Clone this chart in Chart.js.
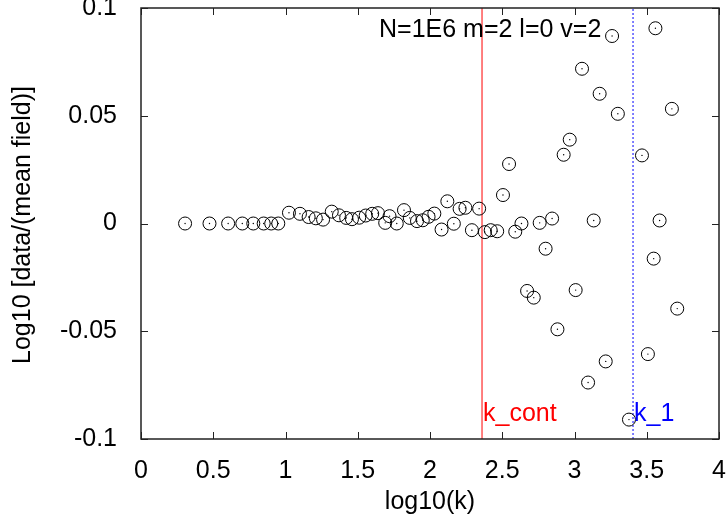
<!DOCTYPE html>
<html>
<head>
  <meta charset="utf-8">
  <title>Log10 data / mean field</title>
  <script src="https://cdn.jsdelivr.net/npm/chart.js"></script>
  <style>
    html, body { margin: 0; padding: 0; background: #fff; }
    #wrap { width: 728px; height: 523px; }
  </style>
</head>
<body>
  <div id="wrap"><canvas id="chart"></canvas></div>
  <script>
    // log10(k) of each bin and log10 of data / mean field
    const logK = [
      0.305, 0.474, 0.603, 0.701, 0.777, 0.849, 0.901, 0.95,
      1.024, 1.10, 1.16, 1.21, 1.26, 1.32, 1.37, 1.42, 1.46, 1.51,
      1.555, 1.60, 1.64, 1.69, 1.72, 1.77, 1.82, 1.86, 1.91, 1.95,
      1.99, 2.03, 2.08, 2.12, 2.165, 2.205, 2.245, 2.29, 2.34, 2.38,
      2.42, 2.465, 2.505, 2.547, 2.59, 2.633, 2.672, 2.718, 2.759, 2.80,
      2.845, 2.882, 2.925, 2.967, 3.008, 3.052, 3.094, 3.133, 3.174, 3.216,
      3.26, 3.30, 3.377, 3.467, 3.508, 3.548, 3.56, 3.589, 3.674, 3.711
    ];
    const ratio = [
      0, 0, 0, 0, 0, 0, 0, 0,
      0.005, 0.0045, 0.003, 0.0024, 0.0018, 0.0055, 0.0038, 0.0026, 0.002, 0.0027,
      0.0037, 0.0045, 0.0048, 0.0003, 0.0034, 0, 0.0062, 0.0026, 0.0011, 0.0015,
      0.0031, 0.0046, -0.0028, 0.0103, -0.0001, 0.0068, 0.0073, -0.0031, 0.0069, -0.004,
      -0.0031, -0.0036, 0.0132, 0.0276, -0.0038, 0, -0.0313, -0.0344, 0.0003, -0.0117,
      0.0023, -0.0491, 0.0319, 0.0389, -0.0309, 0.0718, -0.0738, 0.0014, 0.0602, -0.064,
      0.087, 0.0509, -0.091, 0.0316, -0.0606, -0.0163, 0.0906, 0.0014, 0.0532, -0.0395
    ];
    const kCont = 2.36;
    const kOne = 3.405;
    const yRange = [-0.1, 0.1];
    const xRange = [0, 4];
    const runLabel = "N=1E6 m=2 l=0 v=2";

    const points = logK.map((x, i) => ({ x: x, y: ratio[i] }));
    const vline = x => yRange.map(y => ({ x: x, y: y }));
    const FONT = "Liberation Sans, Arial, sans-serif";
    const fmt = v => String(+(+v).toFixed(2));

    const frame = {
      id: "frame",
      afterDraw(chart) {
        const { ctx, chartArea: a, scales: { x, y } } = chart;
        ctx.save();
        ctx.strokeStyle = "#222";
        ctx.lineWidth = 1;
        ctx.beginPath();
        x.ticks.forEach(t => {
          const px = Math.round(x.getPixelForValue(t.value)) + 0.5;
          ctx.moveTo(px, a.bottom); ctx.lineTo(px, a.bottom - 7);
          ctx.moveTo(px, a.top); ctx.lineTo(px, a.top + 7);
        });
        y.ticks.forEach(t => {
          const py = Math.round(y.getPixelForValue(t.value)) + 0.5;
          ctx.moveTo(a.left, py); ctx.lineTo(a.left + 7, py);
          ctx.moveTo(a.right, py); ctx.lineTo(a.right - 7, py);
        });
        ctx.stroke();
        ctx.lineWidth = 1.5;
        ctx.strokeRect(a.left, a.top, a.right - a.left, a.bottom - a.top);

        ctx.font = "25px " + FONT;
        ctx.textBaseline = "alphabetic";
        ctx.fillStyle = "#000";
        ctx.fillText(runLabel, 379, 37);
        ctx.fillStyle = "#ff0000";
        ctx.fillText("k_cont", x.getPixelForValue(kCont) + 1, 421);
        ctx.fillStyle = "#0000ff";
        ctx.fillText("k_1", x.getPixelForValue(kOne) + 1, 421);

        ctx.fillStyle = "#000";
        ctx.textAlign = "center";
        ctx.fillText("log10(k)", 430, 509);
        ctx.textBaseline = "middle";
        ctx.translate(23, 225);
        ctx.rotate(-Math.PI / 2);
        ctx.fillText("Log10 [data/(mean field)]", 0, 0);
        ctx.restore();
      }
    };

    new Chart(document.getElementById("chart"), {
      type: "scatter",
      data: {
        datasets: [
          {
            data: points,
            pointRadius: 6.5,
            pointHoverRadius: 6.5,
            borderColor: "#000",
            borderWidth: 1,
            backgroundColor: "rgba(0,0,0,0)"
          },
          {
            data: points,
            pointRadius: 0.7,
            borderWidth: 0,
            backgroundColor: "#000"
          },
          {
            data: vline(kCont),
            showLine: true,
            pointRadius: 0,
            borderColor: "#ff0000",
            borderWidth: 1
          },
          {
            data: vline(kOne),
            showLine: true,
            pointRadius: 0,
            borderColor: "#0000ff",
            borderWidth: 1,
            borderDash: [2, 2]
          }
        ]
      },
      options: {
        responsive: true,
        maintainAspectRatio: false,
        animation: false,
        events: [],
        layout: { padding: { top: 8, right: 9, left: 0, bottom: 0 } },
        plugins: { legend: { display: false }, tooltip: { enabled: false } },
        scales: {
          x: {
            type: "linear",
            min: xRange[0],
            max: xRange[1],
            afterFit: s => { s.height = 84; s.paddingLeft = 0; s.paddingRight = 0; },
            grid: { display: false },
            border: { display: false },
            ticks: {
              stepSize: 0.5,
              padding: 9,
              color: "#000",
              font: { family: FONT, size: 25 },
              maxRotation: 0,
              callback: fmt
            }
          },
          y: {
            type: "linear",
            min: yRange[0],
            max: yRange[1],
            afterFit: s => { s.width = 141; s.paddingTop = 0; s.paddingBottom = 0; },
            grid: { display: false },
            border: { display: false },
            ticks: {
              stepSize: 0.05,
              padding: 16,
              color: "#000",
              font: { family: FONT, size: 25 },
              callback: fmt
            }
          }
        }
      },
      plugins: [frame]
    });
  </script>
</body>
</html>
